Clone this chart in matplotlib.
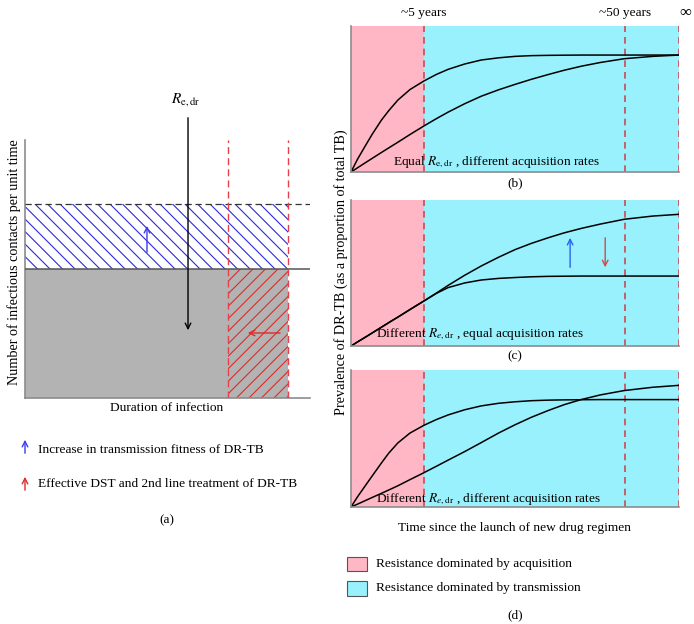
import numpy as np
import matplotlib
matplotlib.use("Agg")
import matplotlib.pyplot as plt
from matplotlib.patches import Rectangle

plt.rcParams["font.family"] = ["Liberation Serif", "DejaVu Serif"]
plt.rcParams["mathtext.fontset"] = "stix"

W, H = 694, 624

# panel (a): contacts per unit time vs duration of infection (schematic units)
base_contacts = 0.50
fit_contacts = 0.752
dur_with_dst = 0.712
dur_without = 0.923

# panels (b)-(d): prevalence vs time since launch (fraction of the axis)
t = [0, 0.02, 0.042, 0.065, 0.093, 0.115, 0.143, 0.18, 0.222, 0.26, 0.296, 0.347,
     0.397, 0.45, 0.5, 0.55, 0.602, 0.65, 0.703, 0.76, 0.833, 0.92, 1.0]
b_fast = [0, 0.088, 0.173, 0.26, 0.356, 0.42, 0.493, 0.565, 0.623, 0.668, 0.703, 0.740,
          0.767, 0.782, 0.792, 0.797, 0.799, 0.800, 0.801, 0.801, 0.801, 0.801, 0.801]
b_slow = [0, 0.029, 0.061, 0.094, 0.134, 0.165, 0.204, 0.257, 0.315, 0.365, 0.410, 0.468,
          0.519, 0.563, 0.600, 0.635, 0.668, 0.697, 0.725, 0.750, 0.776, 0.792, 0.801]
c_low = [0, 0.028, 0.058, 0.09, 0.129, 0.16, 0.198, 0.25, 0.308, 0.36, 0.400, 0.432,
         0.452, 0.463, 0.469, 0.474, 0.477, 0.478, 0.479, 0.479, 0.479, 0.479, 0.479]
c_high = [0, 0.028, 0.058, 0.09, 0.129, 0.16, 0.198, 0.25, 0.308, 0.362, 0.415, 0.485,
          0.548, 0.608, 0.660, 0.703, 0.742, 0.775, 0.806, 0.835, 0.868, 0.890, 0.902]
d_fast = [0, 0.075, 0.15, 0.228, 0.322, 0.393, 0.468, 0.54, 0.596, 0.638, 0.672, 0.710,
          0.738, 0.757, 0.768, 0.776, 0.780, 0.782, 0.783, 0.784, 0.784, 0.784, 0.784]
d_slow = [0, 0.021, 0.045, 0.07, 0.10, 0.124, 0.155, 0.20, 0.25, 0.297, 0.342, 0.405,
          0.47, 0.54, 0.60, 0.655, 0.705, 0.747, 0.785, 0.818, 0.850, 0.874, 0.888]

acq_end = 0.222
year_marks = [0.222, 0.835, 1.0]
year_labels = ["~5 years", "~50 years", "∞"]

panel_texts = [r"Equal $R_{\mathrm{e,dr}}$ , different acquisition rates",
               r"Different $R_{e,\mathrm{dr}}$ , equal acquisition rates",
               r"Different $R_{e,\mathrm{dr}}$ , different acquisition rates"]

PINK = "#ffb7c5"
CYAN = "#98f1fc"
RED_D = "#cc4a55"
SPINE = "#8c8c8c"

fig = plt.figure(figsize=(W / 100, H / 100), dpi=100)


def px_axes(x0, y0, x1, y1):
    return fig.add_axes([x0 / W, 1 - y1 / H, (x1 - x0) / W, (y1 - y0) / H])


# overlay in pixel coords for loose texts / legends
ov = px_axes(0, 0, W, H)
ov.set_xlim(0, W)
ov.set_ylim(H, 0)
ov.axis("off")
ov.patch.set_visible(False)

fs = 9.6

# ---- panel (a)
AW, AH = 285, 258  # panel size in px, used to keep hatch at 45 degrees
axa = px_axes(25, 140, 25 + AW, 140 + AH)
axa.set_xlim(0, 1)
axa.set_ylim(0, 1)
axa.patch.set_visible(False)
for s in ["top", "right"]:
    axa.spines[s].set_visible(False)
for s in ["left", "bottom"]:
    axa.spines[s].set_color(SPINE)
    axa.spines[s].set_linewidth(1.2)
axa.set_xticks([])
axa.set_yticks([])


def hatch(ax, x0, y0, x1, y1, color, rising, step_px=12.5):
    clip = Rectangle((x0, y0), x1 - x0, y1 - y0, facecolor="none", edgecolor="none")
    ax.add_patch(clip)
    run = (y1 - y0) * AH / AW
    step = step_px / AW
    for xs in np.arange(x0 - run, x1 + step, step):
        if rising:
            ln, = ax.plot([xs, xs + run], [y0, y1], color=color, lw=0.8, zorder=2)
        else:
            ln, = ax.plot([xs, xs + run], [y1, y0], color=color, lw=0.8, zorder=2)
        ln.set_clip_path(clip)


axa.add_patch(Rectangle((0, 0), dur_without, base_contacts, facecolor="#b3b3b3",
                        edgecolor="none", zorder=1))
hatch(axa, 0, base_contacts, dur_without, fit_contacts, "#2a2ad8", rising=False)
hatch(axa, dur_with_dst, 0, dur_without, base_contacts, "#e02a2a", rising=True)
axa.axhline(base_contacts, color="#555555", lw=1.1, zorder=3)
axa.axhline(fit_contacts, color="#333333", lw=0.9, ls=(0, (5, 3)), zorder=3)
for xv in [dur_with_dst, dur_without]:
    axa.axvline(xv, color="#e8404a", lw=1.0, ls=(0, (5, 3)), zorder=3)

axa.annotate("", xy=(0.572, 0.252), xytext=(0.572, 1.097),
             arrowprops=dict(arrowstyle="->", color="black", lw=1.0),
             annotation_clip=False, zorder=4)
axa.text(0.565, 1.155, r"$R_{\mathrm{e,dr}}$", ha="center", va="center", fontsize=11,
         transform=axa.transAxes)
axa.annotate("", xy=(0.428, 0.678), xytext=(0.428, 0.554),
             arrowprops=dict(arrowstyle="->", color="#3b3bf0", lw=1.0), zorder=4)
axa.annotate("", xy=(0.772, 0.252), xytext=(0.905, 0.252),
             arrowprops=dict(arrowstyle="->", color="#e02a2a", lw=1.0), zorder=4)

ov.text(14, 262, "Number of infectious contacts per unit time", rotation=90,
        ha="center", va="center", fontsize=10.2)
ov.text(167, 408, "Duration of infection", ha="center", va="center", fontsize=fs)

ov.annotate("", xy=(25, 437), xytext=(25, 456),
            arrowprops=dict(arrowstyle="->", color="#3b3bf0", lw=1.0))
ov.text(38, 450, "Increase in transmission fitness of DR-TB", ha="left", va="center", fontsize=fs)
ov.annotate("", xy=(25, 474), xytext=(25, 493),
            arrowprops=dict(arrowstyle="->", color="#e02a2a", lw=1.0))
ov.text(38, 484, "Effective DST and 2nd line treatment of DR-TB", ha="left", va="center",
        fontsize=fs)
ov.text(167, 520, "(a)", ha="center", va="center", fontsize=fs)

# ---- panels (b), (c), (d)
boxes = [(26, 172), (200, 346), (370, 507)]
curves = [(b_fast, b_slow), (c_low, c_high), (d_fast, d_slow)]
text_pos = [(0.128, 0.045), (0.076, 0.06), (0.076, 0.04)]

axes_r = []
for (y0, y1), cs, txt, (tx, ty) in zip(boxes, curves, panel_texts, text_pos):
    ax = px_axes(351, y0, 679, y1)
    ax.set_xlim(0, 1)
    ax.set_ylim(0, 1)
    ax.axvspan(0, acq_end, color=PINK, lw=0, zorder=0)
    ax.axvspan(acq_end, 1, color=CYAN, lw=0, zorder=0)
    for xv in year_marks:
        ax.axvline(xv, color=RED_D, lw=1.2, ls=(0, (4, 3)), zorder=1)
    for c in cs:
        ax.plot(t, c, color="black", lw=1.1, zorder=2, solid_joinstyle="round")
    ax.text(tx, ty, txt, fontsize=fs, ha="left", va="baseline", zorder=3)
    for s in ["top", "right"]:
        ax.spines[s].set_visible(False)
    for s in ["left", "bottom"]:
        ax.spines[s].set_color(SPINE)
        ax.spines[s].set_linewidth(1.2)
    ax.set_xticks([])
    ax.set_yticks([])
    axes_r.append(ax)

axb, axc, axd = axes_r
axc.annotate("", xy=(0.668, 0.76), xytext=(0.668, 0.52),
             arrowprops=dict(arrowstyle="->", color="#2a62f0", lw=1.0))
axc.annotate("", xy=(0.775, 0.52), xytext=(0.775, 0.76),
             arrowprops=dict(arrowstyle="->", color="#d24a48", lw=1.0))

for xv, lab in zip(year_marks, year_labels):
    if lab == "∞":
        axb.text(xv + 0.02, 1.09, lab, ha="center", va="center", fontsize=12,
                 transform=axb.transAxes)
    else:
        axb.text(xv, 1.09, lab, ha="center", va="center", fontsize=fs,
                 transform=axb.transAxes)

ov.text(515, 183, "(b)", ha="center", va="center", fontsize=fs)
ov.text(515, 356, "(c)", ha="center", va="center", fontsize=fs)
ov.text(515, 528, "Time since the launch of new drug regimen", ha="center", va="center",
        fontsize=fs)
ov.text(341, 272, "Prevalence of DR-TB (as a proportion of total TB)", rotation=90,
        ha="center", va="center", fontsize=10.2)

ov.add_patch(Rectangle((347, 557), 20, 14, facecolor=PINK, edgecolor="#555555", lw=0.8))
ov.add_patch(Rectangle((347, 581), 20, 15, facecolor=CYAN, edgecolor="#555555", lw=0.8))
ov.text(376, 564, "Resistance dominated by acquisition", ha="left", va="center", fontsize=fs)
ov.text(376, 588, "Resistance dominated by transmission", ha="left", va="center", fontsize=fs)
ov.text(515, 615, "(d)", ha="center", va="center", fontsize=fs)

fig.savefig("out.png", dpi=100)
